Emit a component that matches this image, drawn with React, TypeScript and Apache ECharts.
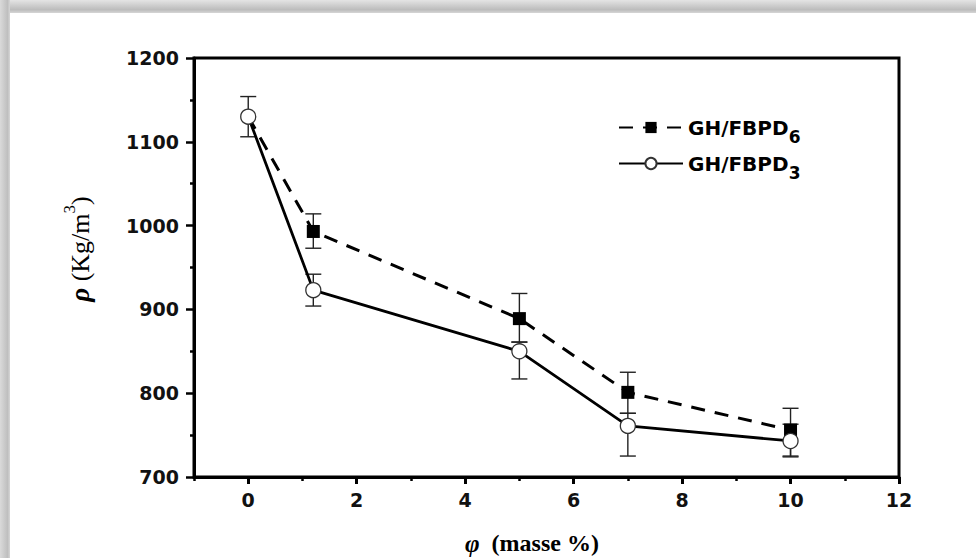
import React, { useEffect, useRef } from "react";
import * as echarts from "echarts";

const xValues = [0, 1.2, 5, 7, 10];
const fbpd6 = [1130, 993, 889, 801, 756];
const fbpd6Low = [1130, 973, 861, 776, 724];
const fbpd6High = [1130, 1014, 919, 825, 782];
const fbpd3 = [1130, 923, 850, 761, 743];
const fbpd3Low = [1106, 904, 817, 725, 725];
const fbpd3High = [1154, 942, 861, 776, 763];
const xMajorTicks = [0, 2, 4, 6, 8, 10, 12];
const xMinorTicks = [-1, 1, 3, 5, 7, 9, 11];
const seriesNames = ["GH/FBPD6", "GH/FBPD3"];

const tickFont = {
  fontFamily: "DejaVu Sans",
  fontWeight: "bold" as const,
  fontSize: 19,
  color: "#111",
};

function errorItem(params: any, api: any) {
  const x = api.value(0);
  const lo = api.value(1);
  const hi = api.value(2);
  if (lo === hi) return { type: "group", children: [] };
  const p1 = api.coord([x, lo]);
  const p2 = api.coord([x, hi]);
  const hw = 8;
  const style = { stroke: "#222", lineWidth: 1.4 };
  return {
    type: "group",
    children: [
      { type: "line", shape: { x1: p1[0], y1: p1[1], x2: p2[0], y2: p2[1] }, style },
      { type: "line", shape: { x1: p1[0] - hw, y1: p1[1], x2: p1[0] + hw, y2: p1[1] }, style },
      { type: "line", shape: { x1: p2[0] - hw, y1: p2[1], x2: p2[0] + hw, y2: p2[1] }, style },
    ],
  };
}

export default function App() {
  const ref = useRef<HTMLDivElement>(null);
  useEffect(() => {
    document.body.style.margin = "0";
    if (!ref.current) return;
    const chart = echarts.init(ref.current, null, { renderer: "svg" });
    const d6 = xValues.map((x, i) =>
      i === 0 ? { value: [x, fbpd6[i]], symbol: "none" } : { value: [x, fbpd6[i]] }
    );
    const d3 = xValues.map((x, i) => [x, fbpd3[i]]);
    const e6 = xValues.map((x, i) => [x, fbpd6Low[i], fbpd6High[i]]);
    const e3 = xValues.map((x, i) => [x, fbpd3Low[i], fbpd3High[i]]);
    chart.setOption({
      animation: false,
      backgroundColor: "#fff",
      grid: {
        left: 194,
        right: 77,
        top: 58,
        bottom: 81,
        show: true,
        borderColor: "#000",
        borderWidth: 3,
        backgroundColor: "transparent",
      },
      legend: {
        data: seriesNames,
        orient: "vertical",
        left: 613,
        top: 105,
        itemWidth: 64,
        itemHeight: 14,
        itemGap: 1,
        textStyle: {
          fontFamily: "DejaVu Sans",
          fontWeight: "bold",
          fontSize: 20,
          color: "#000",
          rich: {
            m: { fontFamily: "DejaVu Sans", fontWeight: "bold", fontSize: 20, lineHeight: 20, color: "#000" },
            s: {
              fontFamily: "DejaVu Sans",
              fontWeight: "bold",
              fontSize: 17,
              lineHeight: 20,
              padding: [18, 0, 0, 0],
              color: "#000",
            },
          },
        },
        formatter: (name: string) => `{m|${name.slice(0, -1)}}{s|${name.slice(-1)}}`,
      },
      xAxis: [
        {
          type: "value",
          min: -1,
          max: 12,
          interval: 1,
          axisLine: { onZero: false, lineStyle: { color: "#000", width: 3 } },
          axisTick: { length: 7, lineStyle: { color: "#000", width: 3 }, customValues: xMajorTicks },
          axisLabel: {
            ...tickFont,
            margin: 13,
            formatter: (v: number) => (v % 2 === 0 ? String(v) : ""),
          },
          splitLine: { show: false },
        },
        {
          type: "value",
          min: -1,
          max: 12,
          interval: 1,
          position: "bottom",
          axisLine: { show: false, onZero: false },
          axisTick: { length: 4, lineStyle: { color: "#000", width: 2.5 }, customValues: xMinorTicks },
          axisLabel: { show: false },
          splitLine: { show: false },
        },
      ],
      yAxis: {
        type: "value",
        min: 700,
        max: 1200,
        interval: 100,
        axisLine: { show: true, onZero: false, lineStyle: { color: "#000", width: 3 } },
        axisTick: { show: true, length: 8, lineStyle: { color: "#000", width: 2.5 } },
        minorTick: { show: true, splitNumber: 2, length: 4, lineStyle: { color: "#000", width: 2.5 } },
        axisLabel: { ...tickFont, margin: 15, formatter: (v: number) => String(v) },
        splitLine: { show: false },
      },
      graphic: [
        {
          type: "rect",
          shape: { x: 0, y: 0, width: 976, height: 13 },
          style: {
            fill: new echarts.graphic.LinearGradient(0, 0, 0, 1, [
              { offset: 0, color: "#e4e4e4" },
              { offset: 0.75, color: "#bcbcbc" },
              { offset: 1, color: "#d6d6d6" },
            ]),
          },
          z: 100,
        },
        {
          type: "rect",
          shape: { x: 0, y: 0, width: 10, height: 558 },
          style: {
            fill: new echarts.graphic.LinearGradient(0, 0, 1, 0, [
              { offset: 0, color: "#dadada" },
              { offset: 0.75, color: "#bfbfbf" },
              { offset: 1, color: "#d6d6d6" },
            ]),
          },
          z: 100,
        },
        {
          type: "text",
          x: 80,
          y: 249,
          rotation: Math.PI / 2,
          style: {
            text: "{p|ρ}{t| (Kg/m}{u|3}{t|)}",
            align: "center",
            verticalAlign: "middle",
            fill: "#000",
            rich: {
              p: { fontFamily: "Liberation Serif", fontStyle: "italic", fontWeight: "bold", fontSize: 27, lineHeight: 26 },
              t: { fontFamily: "Liberation Serif", fontSize: 26, lineHeight: 26 },
              u: { fontFamily: "Liberation Serif", fontSize: 17, lineHeight: 22, padding: [0, 0, 22, 0] },
            },
          },
        },
        {
          type: "text",
          x: 465,
          y: 543,
          style: {
            text: "{p|φ}{t|  (masse %)}",
            align: "left",
            verticalAlign: "middle",
            fill: "#000",
            rich: {
              p: { fontFamily: "Liberation Serif", fontStyle: "italic", fontWeight: "bold", fontSize: 25 },
              t: { fontFamily: "Liberation Serif", fontWeight: "bold", fontSize: 24 },
            },
          },
        },
      ],
      series: [
        {
          name: "err6",
          type: "custom",
          renderItem: errorItem,
          data: e6,
          encode: { x: 0, y: [1, 2] },
          z: 1,
        },
        {
          name: "err3",
          type: "custom",
          renderItem: errorItem,
          data: e3,
          encode: { x: 0, y: [1, 2] },
          z: 1,
        },
        {
          name: seriesNames[0],
          type: "line",
          data: d6,
          symbol: "rect",
          symbolSize: 13,
          lineStyle: { color: "#000", width: 3, type: [14, 10] },
          itemStyle: { color: "#000" },
          z: 3,
        },
        {
          name: seriesNames[1],
          type: "line",
          data: d3,
          symbol: "circle",
          symbolSize: 15,
          lineStyle: { color: "#000", width: 2.8 },
          itemStyle: { color: "#fff", borderColor: "#333", borderWidth: 1.3 },
          z: 4,
        },
      ],
    });
    return () => chart.dispose();
  }, []);
  return <div ref={ref} style={{ width: 976, height: 558 }} />;
}
